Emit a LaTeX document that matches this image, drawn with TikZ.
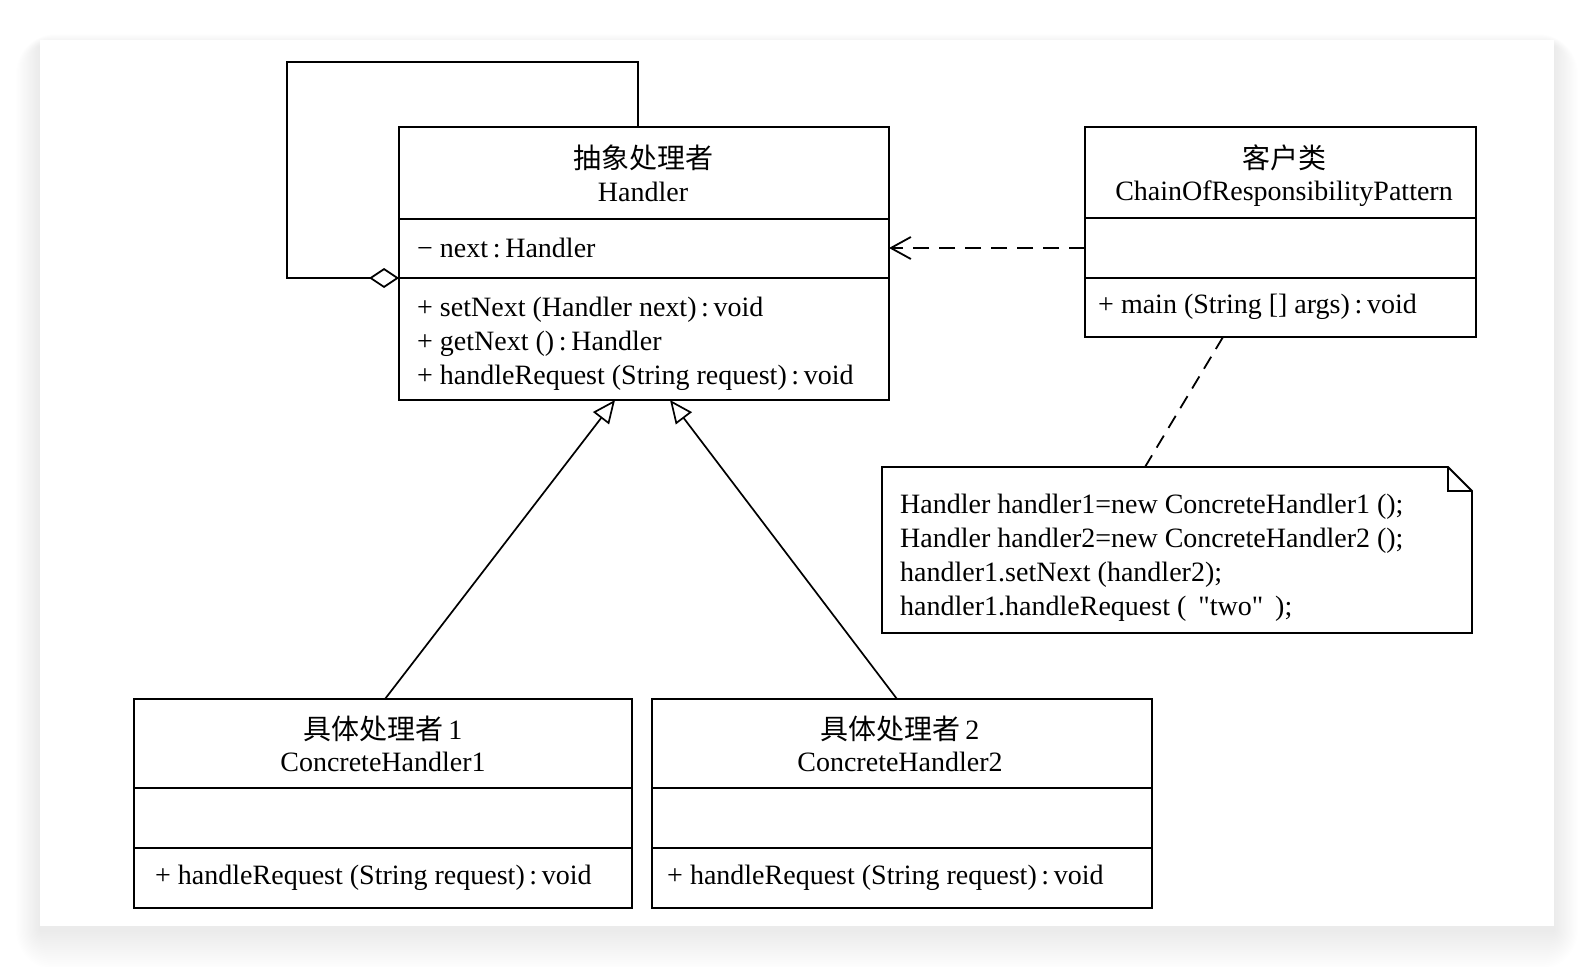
\documentclass[tikz,border=0pt]{standalone}
\usepackage{fontspec}
\setmainfont{Liberation Serif}
\newfontfamily\rawserif[Ligatures=TeXOff]{Liberation Serif}
\newfontfamily\cjk{Noto Sans CJK SC}
\usetikzlibrary{arrows.meta}
\begin{document}
\begin{tikzpicture}[x=1pt,y=-1pt,
  umlbox/.style={draw, line width=1.8pt, inner sep=0pt, outer sep=0pt, anchor=north west},
  sep/.style={line width=1.8pt},
  txt/.style={inner sep=0pt, font=\fontsize{28}{34}\selectfont},
  ttl/.style={txt, anchor=base},
  mem/.style={txt, anchor=base west},
  gen/.style={line width=1.7pt, -{Triangle[open, length=23pt, width=20pt, line width=1.7pt]}},
  dep/.style={line width=1.8pt, dash pattern=on 16pt off 10pt, -{Straight Barb[length=20pt, width=22pt, line width=1.8pt]}},
  agg/.style={line width=1.8pt, {Diamond[open, length=30pt, width=20pt, line width=1.8pt]}-},
  link/.style={line width=1.8pt, dash pattern=on 14pt off 9pt}
]
\useasboundingbox (0,0) rectangle (1594,966);
\fill[white] (0,0) rectangle (1594,966);
% shadow of the panel
\foreach \i in {2,4,...,40} {
  \fill[black, opacity=0.005, rounded corners=\i pt] (40-\i*0.6, 46-\i*0.3) rectangle (1554+\i*0.6, 930+\i);
}
\fill[white] (40,40) rectangle (1554,926);

% ---- Handler ----
\node[umlbox, minimum width=490pt, minimum height=273pt] (handler) at (399,127) {};
\draw[sep] (399,219) -- (889,219);
\draw[sep] (399,278) -- (889,278);
\node[ttl] (hcn) at (643,168) {\cjk 抽象处理者};
\node[ttl] (hen) at (643,201) {Handler};
\node[mem] (hat) at (417,257) {− next\,:\,Handler};
\node[mem] (hm1) at (417,316) {+ setNext (Handler next)\,:\,void};
\node[mem] (hm2) at (417,350) {+ getNext ()\,:\,Handler};
\node[mem] (hm3) at (417,384) {+ handleRequest (String request)\,:\,void};

% ---- Client ----
\node[umlbox, minimum width=391pt, minimum height=210pt] (client) at (1085,127) {};
\draw[sep] (1085,218) -- (1476,218);
\draw[sep] (1085,278) -- (1476,278);
\node[ttl] (ccn) at (1284,168) {\cjk 客户类};
\node[ttl] (cen) at (1284,200) {ChainOfResponsibilityPattern};
\node[mem] (cm1) at (1098,313) {+ main (String [] args)\,:\,void};

% ---- ConcreteHandler1 ----
\node[umlbox, minimum width=498pt, minimum height=209pt] (ch1) at (134,699) {};
\draw[sep] (134,788) -- (632,788);
\draw[sep] (134,848) -- (632,848);
\node[ttl] (c1cn) at (383,739) {{\cjk 具体处理者}\,1};
\node[ttl] (c1en) at (383,771) {ConcreteHandler1};
\node[mem] (c1m) at (155,884) {+ handleRequest (String request)\,:\,void};

% ---- ConcreteHandler2 ----
\node[umlbox, minimum width=500pt, minimum height=209pt] (ch2) at (652,699) {};
\draw[sep] (652,788) -- (1152,788);
\draw[sep] (652,848) -- (1152,848);
\node[ttl] (c2cn) at (900,739) {{\cjk 具体处理者}\,2};
\node[ttl] (c2en) at (900,771) {ConcreteHandler2};
\node[mem] (c2m) at (667,884) {+ handleRequest (String request)\,:\,void};

% ---- Note ----
\draw[line width=1.8pt] (882,467) -- (1448,467) -- (1472,491) -- (1472,633) -- (882,633) -- cycle;
\draw[line width=1.8pt] (1448,467) -- (1448,491) -- (1472,491);
\node[mem] (n1) at (900,513) {Handler handler1=new ConcreteHandler1 ();};
\node[mem] (n2) at (900,547) {Handler handler2=new ConcreteHandler2 ();};
\node[mem] (n3) at (900,581) {handler1.setNext (handler2);};
\node[mem] (n4) at (900,615) {handler1.handleRequest (\hspace{12pt}{\rawserif "two"}\hspace{12pt});};

% ---- connection points ----
\coordinate (hagg) at (399,278);
\coordinate (htop) at (638,127);
\coordinate (lp1) at (287,278);
\coordinate (lp2) at (287,62);
\coordinate (lp3) at (638,62);
\coordinate (hb1) at (615,400);
\coordinate (hb2) at (670,400);
\coordinate (c1t) at (385,699);
\coordinate (c2t) at (897,699);
\coordinate (hr) at (889,248);
\coordinate (cl) at (1085,248);
\coordinate (cb) at (1223,337);
\coordinate (nt) at (1145,467);

% ---- connectors ----
\draw[agg] (hagg) -- (lp1) -- (lp2) -- (lp3) -- (htop);
\draw[gen] (c1t) -- (hb1);
\draw[gen] (c2t) -- (hb2);
\draw[dep] (cl) -- (hr);
\draw[link] (cb) -- (nt);
\end{tikzpicture}
\end{document}
